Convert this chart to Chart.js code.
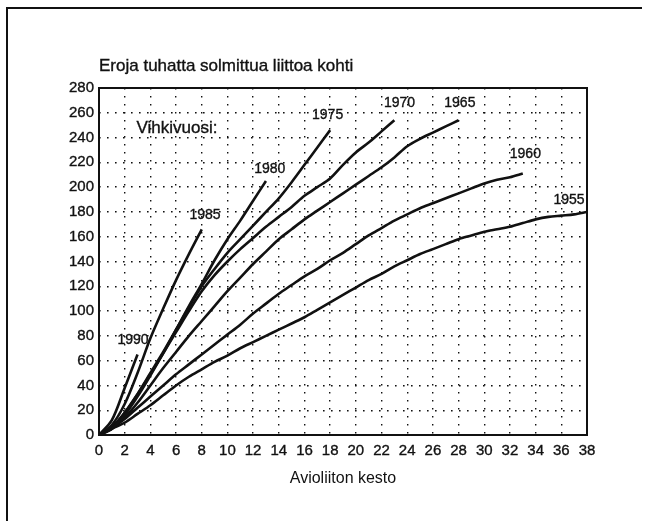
<!DOCTYPE html>
<html>
<head>
<meta charset="utf-8">
<script src="https://cdn.jsdelivr.net/npm/chart.js@4/dist/chart.umd.min.js"></script>
<style>
    body { margin: 0; background: #fff; }
    #wrap { position: relative; width: 649px; height: 521px; }
    #frame {
        position: absolute; left: 6px; top: 7px; width: 634px; height: 520px;
        border-left: 2px solid #111; border-top: 2px solid #111;
    }
    canvas { position: absolute; left: 0; top: 0; }
</style>
</head>
<body>
<div id="wrap">
    <div id="frame"></div>
    <canvas id="divorce-chart" width="649" height="521"></canvas>
</div>
<script>
// Avioliiton kesto (years), shared x values
const kesto = [0, 1, 2, 3, 4, 5, 6, 7, 8, 9, 10, 11, 12, 13, 14, 15, 16, 17, 18, 19,
    20, 21, 22, 23, 24, 25, 26, 27, 28, 29, 30, 31, 32, 33, 34, 35, 36, 37, 38];

// cumulative divorces per 1000 marriages, by wedding year
const v1990 = [0, 12, 38, 65];
const v1985 = [0, 8, 25, 50, 78, 102, 125, 146, 166];
const v1980 = [0, 5, 16, 31, 48, 66, 85, 104, 122, 141, 158, 173, 189, 205];
const v1975 = [0, 6, 18, 33, 50, 67, 85, 103, 120, 134, 147, 158, 169, 180, 191, 204, 218, 232, 246];
const v1970 = [0, 6, 18, 33, 49, 66, 83, 100, 116, 129, 140, 150, 159, 168, 176, 184, 193, 200, 207,
    218, 228, 236, 245, 254];
const v1965 = [0, 5, 14, 26, 40, 54, 67, 80, 92, 104, 116, 127, 138, 148, 158, 166, 174, 181, 188,
    195, 202, 209, 216, 224, 233, 239, 244, 249, 254];
const v1960 = [0, 6, 13, 22, 31, 40, 49, 57, 65, 73, 81, 89, 98, 106, 114, 121, 128, 134, 141,
    147, 154, 161, 167, 173, 178, 183, 187, 191, 195, 199, 203, 206, 208, 211];
const v1955 = [0, 5, 10, 17, 24, 32, 40, 47, 53, 59, 64, 70, 75, 80, 85, 90, 95, 101, 107,
    113, 119, 125, 130, 136, 141, 146, 150, 154, 158, 161, 164, 166, 168, 171, 174, 176, 177, 178, 180];

const years = ['1990', '1985', '1980', '1975', '1970', '1965', '1960', '1955'];
const series = [v1990, v1985, v1980, v1975, v1970, v1965, v1960, v1955];

// where each year label sits, in chart units
const labelX = [2.65, 8.26, 13.3, 17.8, 23.4, 28.1, 33.2, 36.6];
const labelY = [76.7, 177.6, 214.7, 258, 268, 268, 226.8, 189.7];

const yTicks = [0, 20, 40, 60, 80, 100, 120, 140, 160, 180, 200, 220, 240, 260, 280];
const xTicks = kesto.filter(k => k % 2 === 0);

const yTitle = 'Eroja tuhatta solmittua liittoa kohti';
const xTitle = 'Avioliiton kesto';
const legendTitle = 'Vihkivuosi:';

const FONT = '"Liberation Sans", Arial, Helvetica, sans-serif';
const INK = '#111';

const drawText = (ctx, text, x, y, size) => {
    ctx.font = size + 'px ' + FONT;
    ctx.lineWidth = 0.35;
    ctx.strokeText(text, x, y);
    ctx.fillText(text, x, y);
};

const textPlugin = {
    id: 'chartTexts',
    afterDatasetsDraw(chart) {
        const { ctx, chartArea, scales } = chart;
        ctx.save();
        // plot frame
        ctx.strokeStyle = INK;
        ctx.lineWidth = 2;
        ctx.strokeRect(chartArea.left, chartArea.top, chartArea.width, chartArea.height);

        ctx.fillStyle = INK;
        ctx.textAlign = 'center';
        ctx.textBaseline = 'middle';
        years.forEach((year, i) => {
            drawText(ctx, year, scales.x.getPixelForValue(labelX[i]), scales.y.getPixelForValue(labelY[i]), 14);
        });

        drawText(ctx, legendTitle, scales.x.getPixelForValue(6.07), scales.y.getPixelForValue(247.8), 17);

        ctx.textAlign = 'left';
        drawText(ctx, yTitle, chartArea.left, chartArea.top - 22, 17);
        ctx.restore();
    }
};

const tickFont = { family: FONT, size: 15 };

new Chart(document.getElementById('divorce-chart'), {
    type: 'line',
    data: {
        datasets: series.map((values, i) => ({
            label: years[i],
            data: values.map((v, j) => ({ x: kesto[j], y: v })),
            borderColor: INK,
            borderWidth: 2.6,
            pointRadius: 0,
            tension: 0.3,
            fill: false
        }))
    },
    options: {
        responsive: false,
        animation: false,
        layout: { padding: { left: 0, top: 88, right: 62, bottom: 0 } },
        plugins: {
            legend: { display: false },
            tooltip: { enabled: false }
        },
        scales: {
            x: {
                type: 'linear',
                min: 0,
                max: 38,
                afterBuildTicks: scale => { scale.ticks = xTicks.map(v => ({ value: v })); },
                afterFit: scale => { scale.height = 86; },
                grid: { color: INK, lineWidth: 1.4, drawTicks: false },
                border: { display: false, dash: [1.6, 6.4] },
                ticks: { color: INK, font: tickFont, padding: 7, maxRotation: 0, textStrokeColor: INK, textStrokeWidth: 0.35 },
                title: {
                    display: true, text: xTitle, color: INK,
                    font: { family: FONT, size: 16 }, padding: { top: 4, bottom: 33 }
                }
            },
            y: {
                min: 0,
                max: 280,
                afterBuildTicks: scale => { scale.ticks = yTicks.map(v => ({ value: v })); },
                afterFit: scale => { scale.width = 99; },
                grid: { color: INK, lineWidth: 1.4, drawTicks: false },
                border: { display: false, dash: [1.6, 6.4] },
                ticks: { color: INK, font: tickFont, padding: 5, textStrokeColor: INK, textStrokeWidth: 0.35 }
            }
        }
    },
    plugins: [textPlugin]
});
</script>
</body>
</html>
